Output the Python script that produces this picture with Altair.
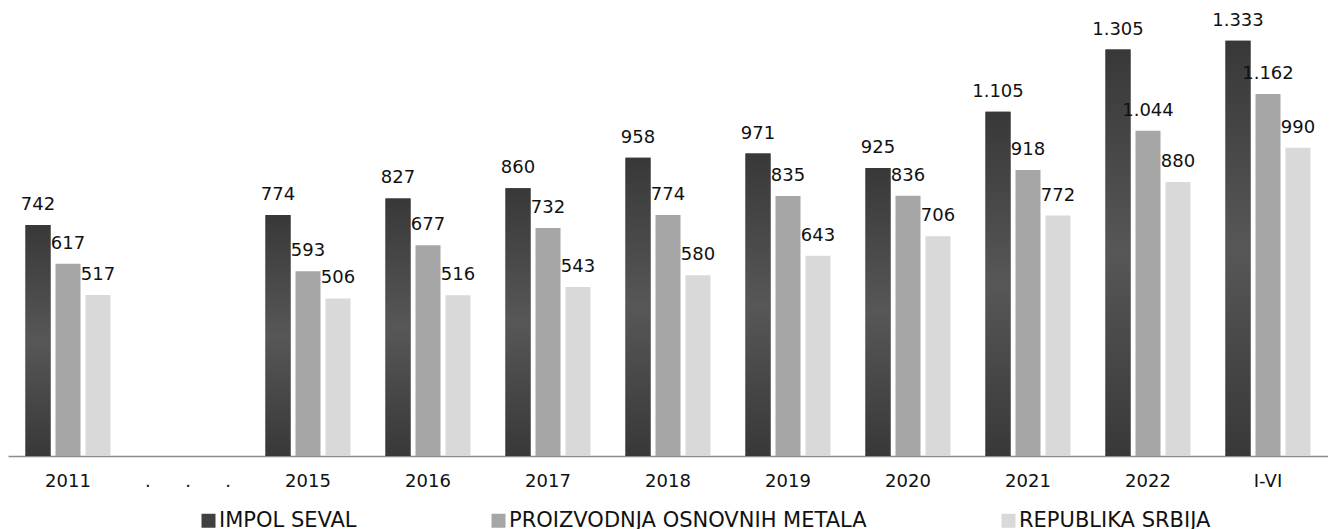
import altair as alt
import pandas as pd

categories = ["2011", ".\u00a0\u00a0\u00a0\u00a0\u00a0\u00a0.\u00a0\u00a0\u00a0\u00a0\u00a0\u00a0.",
              "2015", "2016", "2017", "2018", "2019", "2020", "2021", "2022", "I-VI"]
data_categories = ["2011", "2015", "2016", "2017", "2018", "2019", "2020", "2021", "2022", "I-VI"]
series = ["IMPOL SEVAL", "PROIZVODNJA OSNOVNIH METALA", "REPUBLIKA SRBIJA"]
impol = [742, 774, 827, 860, 958, 971, 925, 1105, 1305, 1333]
metali = [617, 593, 677, 732, 774, 835, 836, 918, 1044, 1162]
srbija = [517, 506, 516, 543, 580, 643, 706, 772, 880, 990]
colors = ["#404040", "#a6a6a6", "#d9d9d9"]

rows = []
for s, vals in zip(series, [impol, metali, srbija]):
    for c, v in zip(data_categories, vals):
        rows.append({"cat": c, "series": s, "value": v})
df = pd.DataFrame(rows)

FONT = "DejaVu Sans"

x = alt.X("cat:N", sort=categories,
          scale=alt.Scale(domain=categories, paddingInner=0.25, paddingOuter=0.125),
          axis=alt.Axis(title=None, labelAngle=0, ticks=False, labelPadding=16,
                        labelFont=FONT, labelFontSize=18, labelColor="#111111",
                        domainColor="#8c8c8c", domainWidth=1.5, grid=False))
xo = alt.XOffset("series:N", sort=series,
                 scale=alt.Scale(domain=series, paddingInner=1/6, paddingOuter=1/12))
y = alt.Y("value:Q", scale=alt.Scale(domain=[0, 1400], nice=False), axis=None)

base = alt.Chart(df)

bars = base.mark_bar().encode(
    x=x, xOffset=xo, y=y,
    color=alt.Color("series:N", sort=series,
                    scale=alt.Scale(domain=series, range=colors),
                    legend=alt.Legend(title=None, orient="none", legendX=190, legendY=490,
                                      direction="horizontal", columns=3,
                                      symbolType="square", symbolSize=196,
                                      symbolStrokeWidth=0, labelOffset=0,
                                      columnPadding=131, padding=0,
                                      labelFont=FONT, labelFontSize=21,
                                      labelColor="#111111", labelLimit=500)),
)

dark = base.transform_filter(alt.datum.series == series[0]).mark_bar(
    color=alt.Gradient(gradient="linear", x1=0, y1=0, x2=0, y2=1,
                       stops=[alt.GradientStop(color="#383838", offset=0),
                              alt.GradientStop(color="#575757", offset=0.5),
                              alt.GradientStop(color="#383838", offset=1)])
).encode(x=x, xOffset=xo, y=y)

labels = base.transform_calculate(
    lbl="replace(format(datum.value, ','), ',', '.')"
).mark_text(baseline="alphabetic", align="center", dy=-15,
            font=FONT, fontSize=18, color="#111111").encode(
    x=x, xOffset=xo, y=y, text="lbl:N")

chart = alt.layer(bars, dark, labels).properties(
    width=1320, height=436,
    padding={"left": 0, "right": 0, "top": 3, "bottom": 0},
).configure_view(stroke=None)

chart.save("out.html", embed_options={"renderer": "svg", "actions": False})
